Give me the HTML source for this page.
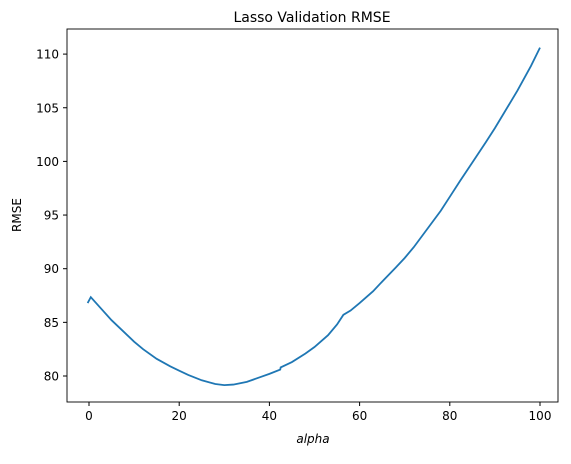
<!DOCTYPE html>
<html><head><meta charset="utf-8"><style>
body{margin:0;background:#fff;width:571px;height:459px;overflow:hidden}
text{font-family:"DejaVu Sans","Liberation Sans",sans-serif;fill:#000}
</style></head><body>
<svg id="chart" width="571" height="459" xmlns="http://www.w3.org/2000/svg">
<text x="312" y="22" font-size="14" text-anchor="middle">Lasso Validation RMSE</text>
<rect x="67" y="29" width="491" height="373" fill="none" stroke="#000" stroke-width="0.9"/>
<g id="xt"></g><g id="yt"></g>
<text x="313" y="443" font-size="12" font-style="italic" text-anchor="middle">alpha</text>
<text x="21" y="215" font-size="12" text-anchor="middle" transform="rotate(-90 21 215)">RMSE</text>
<polyline id="line" fill="none" stroke="#1f77b4" stroke-width="1.8"/>
</svg>
<script>
const alphas=[-0.3,0.4,2,5,8,10,12,15,18,20,22,25,28,30,32,35,38,40,42.4,42.5,45,48,50,53,55,56.4,58,60,63,65,68,70,72,75,78,80,82.3,85,88,90,92,95,98,100];
const rmse=[86.8,87.35,86.6,85.2,84.0,83.2,82.5,81.6,80.9,80.5,80.1,79.6,79.25,79.15,79.2,79.45,79.9,80.2,80.6,80.8,81.3,82.1,82.7,83.8,84.8,85.7,86.1,86.8,87.9,88.8,90.1,91.0,92.0,93.7,95.4,96.7,98.2,99.9,101.8,103.1,104.5,106.6,108.9,110.6];
const xTicks=[0,20,40,60,80,100];
const yTicks=[80,85,90,95,100,105,110];
const X=v=>89+v*4.51, Y=v=>376-(v-80)*10.73;
const ns="http://www.w3.org/2000/svg";
const xt=document.getElementById('xt'), yt=document.getElementById('yt');
xTicks.forEach(t=>{
  const l=document.createElementNS(ns,'line');
  l.setAttribute('x1',X(t));l.setAttribute('x2',X(t));l.setAttribute('y1',402);l.setAttribute('y2',406);l.setAttribute('stroke','#000');
  
  
  xt.appendChild(l);
  const s=document.createElementNS(ns,'text');
  s.setAttribute('x',X(t));s.setAttribute('y',420);s.setAttribute('font-size','12');s.setAttribute('text-anchor','middle');s.textContent=t;
  
  
  xt.appendChild(s);
});
yTicks.forEach(t=>{
  const l=document.createElementNS(ns,'line');
  l.setAttribute('x1',63);l.setAttribute('x2',67);l.setAttribute('y1',Y(t));l.setAttribute('y2',Y(t));l.setAttribute('stroke','#000');
  
  
  yt.appendChild(l);
  const s=document.createElementNS(ns,'text');
  s.setAttribute('x',59);s.setAttribute('y',Y(t)+4.5);s.setAttribute('font-size','12');s.setAttribute('text-anchor','end');s.textContent=t;
  
  
  yt.appendChild(s);
});
document.getElementById('line').setAttribute('points',alphas.map((a,i)=>X(a)+','+Y(rmse[i])).join(' '));
</script>
</body></html>
